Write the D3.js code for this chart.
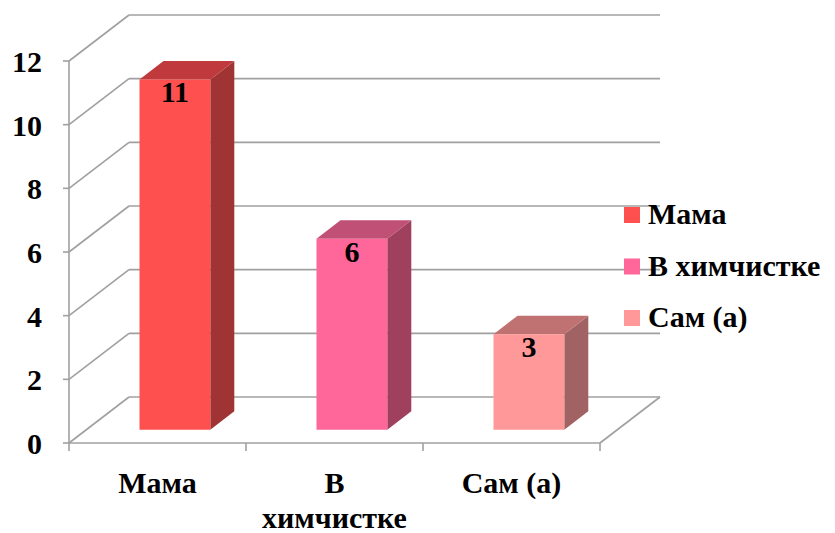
<!DOCTYPE html>
<html>
<head>
<meta charset="utf-8">
<script src="https://cdn.jsdelivr.net/npm/d3@7"></script>
<style>
  @font-face {
    font-family: "ChartSerif";
    src: local("Liberation Serif Bold"), local("LiberationSerif-Bold"), local("Times New Roman Bold");
    font-weight: bold;
  }
  html, body { margin: 0; padding: 0; background: #fff; }
  svg { display: block; }
</style>
</head>
<body>
<script>
// Who cleans the clothes: answer counts
const categories = ["Мама", "В химчистке", "Сам (а)"];
const values = [11, 6, 3];
const yTicks = [0, 2, 4, 6, 8, 10, 12];
const frontColors = ["#ff5050", "#ff6699", "#ff9999"];
const sideColors  = ["#a03333", "#a0405f", "#a06262"];
const topColors   = ["#c03a3d", "#c05075", "#c07272"];

const W = 835, H = 533;
const svg = d3.select("body").append("svg").attr("width", W).attr("height", H);

const label = (sel) => sel.style("font-family", '"Times New Roman", "ChartSerif", "Liberation Serif", serif')
  .attr("font-weight", "bold").attr("font-size", 30).attr("fill", "#000");

// front plane scales
const x = d3.scaleBand().domain(categories).range([69, 600]);
const y = d3.scaleLinear().domain([0, 12]).range([443, 61]);

// depth projection
const DX = 60, DY = -46;
const P = (px, py, d) => [px + d * DX, py + d * DY];

// text layer first, so the serif face is picked up before the shapes
const textLayer = svg.append("g");

const grid = svg.insert("g", "g")
  .attr("stroke", "#a0a0a0").attr("stroke-width", 1.6).attr("fill", "none");

// back wall gridlines
yTicks.forEach(t => {
  const a = P(x.range()[0], y(t), 1), b = P(x.range()[1], y(t), 1);
  grid.append("line").attr("x1", a[0]).attr("y1", a[1]).attr("x2", b[0]).attr("y2", b[1]);
});
// side wall gridlines
yTicks.forEach(t => {
  const a = P(x.range()[0], y(t), 0), b = P(x.range()[0], y(t), 1);
  grid.append("line").attr("x1", a[0]).attr("y1", a[1]).attr("x2", b[0]).attr("y2", b[1]);
});
// floor edges and value axis
{
  const r0 = P(x.range()[1], y(0), 0), r1 = P(x.range()[1], y(0), 1);
  grid.append("line").attr("x1", r0[0]).attr("y1", r0[1]).attr("x2", r1[0]).attr("y2", r1[1]);
  grid.append("line").attr("x1", x.range()[0]).attr("y1", y(0)).attr("x2", x.range()[1]).attr("y2", y(0));
  grid.append("line").attr("x1", x.range()[0]).attr("y1", y(0)).attr("x2", x.range()[0]).attr("y2", y(12));
}
// tick marks
yTicks.forEach(t => {
  grid.append("line").attr("x1", x.range()[0] - 6).attr("y1", y(t)).attr("x2", x.range()[0]).attr("y2", y(t));
});
[...categories.map(c => x(c)), x.range()[1]].forEach(px => {
  grid.append("line").attr("x1", px).attr("y1", y(0)).attr("x2", px).attr("y2", y(0) + 8);
});

// bars
const dFront = 0.29, dBack = 0.69, barFrac = 0.4;
const bars = svg.insert("g", "g:last-child");
const pts = arr => arr.map(p => p.join(",")).join(" ");
categories.forEach((c, i) => {
  const v = values[i];
  const bw = x.bandwidth() * barFrac;
  const x0 = x(c) + (x.bandwidth() - bw) / 2, x1 = x0 + bw;
  const yt = y(v), yb = y(0);
  const fTL = P(x0, yt, dFront), fTR = P(x1, yt, dFront), fBR = P(x1, yb, dFront), fBL = P(x0, yb, dFront);
  const bTL = P(x0, yt, dBack), bTR = P(x1, yt, dBack), bBR = P(x1, yb, dBack);
  bars.append("polygon").attr("points", pts([fTR, bTR, bBR, fBR])).attr("fill", sideColors[i]);
  bars.append("polygon").attr("points", pts([fTL, bTL, bTR, fTR])).attr("fill", topColors[i]);
  bars.append("polygon").attr("points", pts([fTL, fTR, fBR, fBL])).attr("fill", frontColors[i]);
  textLayer.append("text")
    .attr("x", (fTL[0] + fTR[0]) / 2).attr("y", fTL[1] + 23)
    .attr("text-anchor", "middle").call(label).text(v);
});

// value axis labels
textLayer.append("g").selectAll("text").data(yTicks).join("text")
  .attr("x", 42).attr("y", d => y(d) + 11)
  .attr("text-anchor", "end").call(label).text(d => d);

// category labels (wrapped to two lines where needed)
const catLines = { "Мама": ["Мама"], "В химчистке": ["В", "химчистке"], "Сам (а)": ["Сам (а)"] };
categories.forEach(c => {
  const cx = x(c) + x.bandwidth() / 2;
  const t = textLayer.append("text").attr("text-anchor", "middle").call(label)
    .attr("x", cx).attr("y", 493);
  catLines[c].forEach((ln, k) => {
    t.append("tspan").attr("x", cx).attr("dy", k === 0 ? 0 : 35).text(ln);
  });
});

// legend
categories.forEach((c, i) => {
  const ly = 215 + i * 51.5;
  textLayer.append("rect").attr("x", 624).attr("y", ly - 8).attr("width", 16).attr("height", 16).attr("fill", frontColors[i]);
  textLayer.append("text").attr("x", 648).attr("y", ly + 9).call(label).text(c);
});
</script>
</body>
</html>
